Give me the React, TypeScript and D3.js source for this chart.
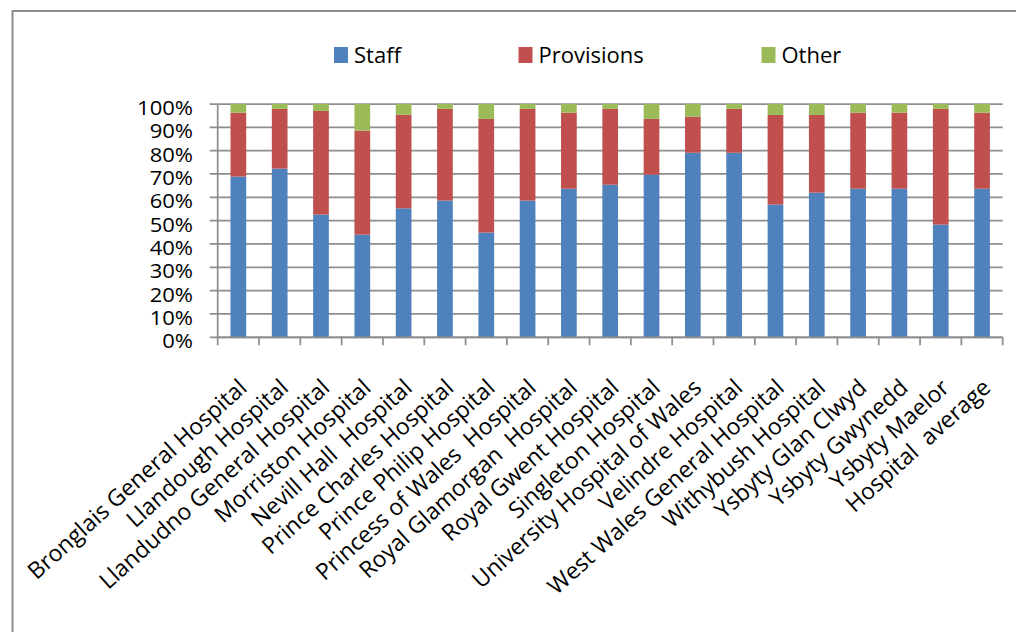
import React from "react";
import * as d3 from "d3";

const categories: string[] = [
  "Bronglais General Hospital",
  "Llandough Hospital",
  "Llandudno General Hospital",
  "Morriston Hospital",
  "Nevill Hall  Hospital",
  "Prince Charles Hospital",
  "Prince Philip Hospital",
  "Princess of Wales  Hospital",
  "Royal Glamorgan  Hospital",
  "Royal Gwent Hospital",
  "Singleton Hospital",
  "University Hospital of Wales",
  "Velindre Hospital",
  "West Wales General Hospital",
  "Withybush Hospital",
  "Ysbyty Glan Clwyd",
  "Ysbyty Gwynedd",
  "Ysbyty Maelor",
  "Hospital  average",
];

const staff: number[] = [68.9, 72.3, 52.6, 44.0, 55.3, 58.6, 44.9, 58.6, 63.7, 65.4, 69.7, 79.1, 79.1, 56.9, 62.0, 63.7, 63.7, 48.3, 63.7];
const provisions: number[] = [27.4, 25.6, 44.4, 44.6, 40.1, 39.3, 48.7, 39.3, 32.6, 32.5, 23.9, 15.5, 18.8, 38.4, 33.3, 32.6, 32.6, 49.6, 32.6];
const other: number[] = [3.7, 2.1, 3.0, 11.4, 4.6, 2.1, 6.4, 2.1, 3.7, 2.1, 6.4, 5.4, 2.1, 4.7, 4.7, 3.7, 3.7, 2.1, 3.7];

const seriesNames: string[] = ["Staff", "Provisions", "Other"];
const seriesColors: string[] = ["#4F81BD", "#C0504D", "#9BBB59"];
const yTicks: number[] = [0, 10, 20, 30, 40, 50, 60, 70, 80, 90, 100];

export default function App() {
  const W = 1016;
  const H = 632;
  const left = 217.7;
  const right = 1002.7;
  const top = 104;
  const bottom = 337.3;
  const font = "'Open Sans', 'DejaVu Sans', sans-serif";
  const grid = "#8e8e8e";

  const x = d3.scaleBand<string>().domain(categories).range([left, right]).paddingInner(0.62).paddingOuter(0.31);
  const y = d3.scaleLinear().domain([0, 100]).range([bottom, top]);

  const rows = categories.map((c, i) => ({ cat: c, Staff: staff[i], Provisions: provisions[i], Other: other[i] }));
  const stacked = d3.stack<any>().keys(seriesNames)(rows);

  const step = (right - left) / categories.length;
  const boundaries = d3.range(categories.length + 1).map((i) => left + i * step);

  const legendX = [334, 518.5, 761.5];

  return (
    <svg width={W} height={H} style={{ position: "absolute", left: 0, top: 0 }} fontFamily={font}>
      <rect x={0} y={0} width={W} height={H} fill="#fff" />
      <rect x={12.5} y={11} width={1040} height={660} fill="#fff" stroke="#8c8c8c" strokeWidth={2} />

      {/* legend */}
      {seriesNames.map((s, i) => (
        <g key={s}>
          <rect x={legendX[i]} y={47} width={14} height={16} fill={seriesColors[i]} />
          <text x={legendX[i] + 20} y={62.5} fontSize={22} fill="#000">{s}</text>
        </g>
      ))}

      {/* gridlines */}
      {yTicks.map((t) => (
        <line key={t} x1={left - 8} x2={right} y1={y(t)} y2={y(t)} stroke={grid} strokeWidth={1.75} />
      ))}
      {yTicks.map((t) => (
        <text
          key={"l" + t}
          transform={`translate(193,${y(t) + 3.5}) scale(1.1,1)`}
          fontSize={20}
          textAnchor="end"
          dominantBaseline="central"
          fill="#000"
        >
          {t}%
        </text>
      ))}

      {/* bars */}
      {stacked.map((layer, si) => (
        <g key={layer.key} fill={seriesColors[si]}>
          {layer.map((d: any, i: number) => (
            <rect
              key={i}
              x={x(categories[i])}
              width={x.bandwidth()}
              y={y(d[1])}
              height={y(d[0]) - y(d[1])}
            />
          ))}
        </g>
      ))}

      {/* axes */}
      <line x1={left} x2={left} y1={top} y2={bottom} stroke={grid} strokeWidth={1.75} />
      <line x1={left} x2={right} y1={bottom} y2={bottom} stroke={grid} strokeWidth={1.75} />
      {boundaries.map((bx, i) => (
        <line key={i} x1={bx} x2={bx} y1={bottom} y2={bottom + 8} stroke={grid} strokeWidth={1.75} />
      ))}

      {/* category labels */}
      {categories.map((c) => {
        const cx = (x(c) as number) + x.bandwidth() / 2;
        return (
          <text
            key={c}
            transform={`translate(${cx + 4},${383}) rotate(-42)`}
            textAnchor="end"
            dominantBaseline="central"
            fontSize={23}
            fill="#000"
            style={{ whiteSpace: "pre" }}
          >
            {c}
          </text>
        );
      })}
    </svg>
  );
}
